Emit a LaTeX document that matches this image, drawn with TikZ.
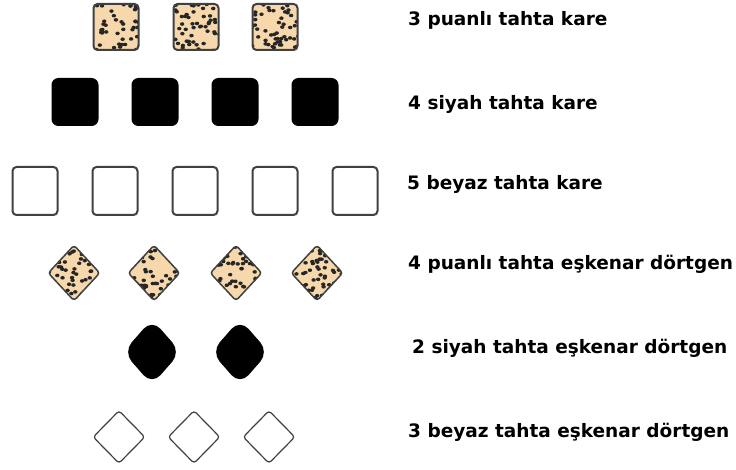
\documentclass[tikz,border=0pt]{standalone}
\usepackage{fontspec}
\setmainfont{DejaVu Sans}
\usetikzlibrary{shapes,positioning,calc}
\definecolor{benek}{RGB}{246,216,172}

\begin{document}
\begin{tikzpicture}[
    x=1pt, y=-1pt,
    kare/.style={rectangle, draw=black!75, line width=2pt, rounded corners=4pt, minimum width=45pt, minimum height=46pt, inner sep=0pt},
    dortgen/.style={diamond, draw=black!75, line width=1.5pt, rounded corners=3pt, minimum width=52pt, minimum height=56pt, inner sep=0pt},
    puanli/.style={fill=benek, path picture={\foreach \d in {1,...,58} \fill[black!85] ($(path picture bounding box.center)+({rand*25pt},{rand*27pt})$) ellipse (2.2pt and 1.8pt);}},
    yazi/.style={anchor=base west, font=\bfseries\fontsize{18.5}{22}\selectfont, inner sep=0pt}
]
    \pgfmathsetseed{17}
    \useasboundingbox (0,0) rectangle (736,470);

    % kareler
    \foreach \x [count=\i] in {116,196,275} \node[kare, puanli] (pk\i) at (\x,27) {};
    \foreach \x [count=\i] in {75,155,235,315} \node[kare, fill=black, draw=black, rounded corners=6pt] (sk\i) at (\x,102) {};
    \foreach \x [count=\i] in {35,115,195,275,355} \node[kare, minimum height=48pt, fill=white] (bk\i) at (\x,191) {};

    % eskenar dortgenler
    \foreach \x [count=\i] in {74,154,236,317} \node[dortgen, puanli] (pd\i) at (\x,273) {};
    \foreach \x [count=\i] in {152,240} \node[dortgen, fill=black, draw=black, rounded corners=12pt, minimum width=56pt, minimum height=64pt] (sd\i) at (\x,352) {};
    \foreach \x [count=\i] in {119,194,269} \node[dortgen, line width=1.2pt, minimum height=53pt, fill=white] (bd\i) at (\x,437) {};

    % aciklamalar
    \node[yazi] (t1) at (408,26) {3 puanlı tahta kare};
    \node[yazi] (t2) at (408,110) {4 siyah tahta kare};
    \node[yazi] (t3) at (407,190) {5 beyaz tahta kare};
    \node[yazi] (t4) at (408,270) {4 puanlı tahta eşkenar dörtgen};
    \node[yazi] (t5) at (412,353) {2 siyah tahta eşkenar dörtgen};
    \node[yazi] (t6) at (408,437) {3 beyaz tahta eşkenar dörtgen};
\end{tikzpicture}
\end{document}
